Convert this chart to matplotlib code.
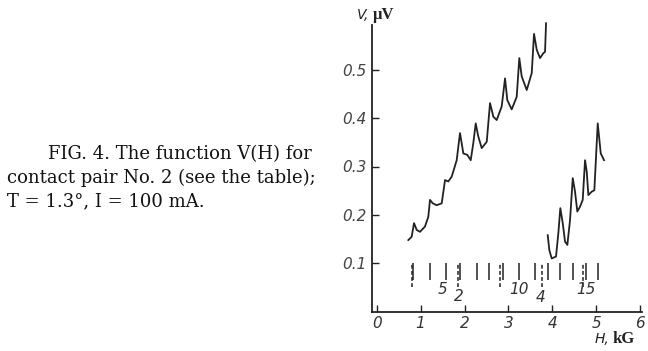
import matplotlib
matplotlib.use("Agg")
import matplotlib.pyplot as plt

# Upper curve V(H)
H1 = [0.720, 0.797, 0.850, 0.911, 0.986, 1.100, 1.175, 1.214, 1.276, 1.367, 1.481, 1.556,
      1.631, 1.708, 1.822, 1.897, 1.936, 1.973, 2.064, 2.141, 2.200, 2.255, 2.314, 2.392,
      2.506, 2.581, 2.656, 2.733, 2.847, 2.923, 2.975, 3.075, 3.189, 3.248, 3.303, 3.417,
      3.531, 3.583, 3.645, 3.720, 3.795, 3.834, 3.857]
V1 = [0.148, 0.155, 0.183, 0.169, 0.165, 0.176, 0.196, 0.231, 0.224, 0.220, 0.224, 0.272,
      0.269, 0.279, 0.313, 0.369, 0.348, 0.327, 0.324, 0.313, 0.348, 0.389, 0.362, 0.338,
      0.351, 0.431, 0.403, 0.396, 0.424, 0.482, 0.437, 0.418, 0.444, 0.524, 0.486, 0.458,
      0.493, 0.574, 0.541, 0.524, 0.534, 0.537, 0.596]

# Lower curve V(H)
H2 = [3.895, 3.932, 3.986, 4.084, 4.137, 4.182, 4.237, 4.289, 4.342, 4.403, 4.465, 4.517,
      4.569, 4.631, 4.692, 4.745, 4.784, 4.820, 4.897, 4.957, 5.011, 5.034, 5.064, 5.103, 5.178]
V2 = [0.158, 0.127, 0.110, 0.114, 0.162, 0.214, 0.183, 0.145, 0.138, 0.189, 0.276, 0.248,
      0.207, 0.217, 0.231, 0.313, 0.289, 0.241, 0.248, 0.251, 0.348, 0.389, 0.362, 0.327, 0.313]

# Marker lines (solid and dashed series)
solid_H = [0.827, 1.214, 1.572, 1.886, 2.278, 2.565, 2.866, 3.241, 3.606, 3.895,
           4.175, 4.465, 4.761, 5.034]
dashed_H = [0.793, 1.863, 2.809, 3.772, 4.699]
marker_labels = ["5", "2", "10", "4", "15"]
marker_label_H = [1.503, 1.859, 3.248, 3.736, 4.768]
marker_label_V = [0.045, 0.031, 0.045, 0.029, 0.045]

xticks = [0, 1, 2, 3, 4, 5, 6]
yticks = [0.1, 0.2, 0.3, 0.4, 0.5]
ytick_labels = ["0.1", "0.2", "0.3", "0.4", "0.5"]

W, Hpx = 648, 351
fig = plt.figure(figsize=(W / 100, Hpx / 100), dpi=100)
fig.patch.set_facecolor("white")

ax = fig.add_axes([372 / W, 1 - 311.7 / Hpx, 269.9 / W, 290.4 / Hpx])
ax.set_xlim(-0.107, 6.04)
ax.set_ylim(0, 0.6)

lc = "#222222"
ax.plot(H1, V1, color=lc, lw=1.3, solid_joinstyle="round")
ax.plot(H2, V2, color=lc, lw=1.3, solid_joinstyle="round")

ax.vlines(solid_H, 0.065, 0.100, colors=lc, lw=1.1)
ax.vlines(dashed_H, 0.052, 0.100, colors=lc, lw=1.1, linestyles=(0, (2.5, 1.5)))

for lab, h, v in zip(marker_labels, marker_label_H, marker_label_V):
    ax.text(h, v, lab, ha="center", va="center", fontsize=11, style="italic",
            family="DejaVu Sans", color="#333333")

for s in ["top", "right"]:
    ax.spines[s].set_visible(False)
ax.spines["left"].set_bounds(0, 0.592)
ax.spines["left"].set_linewidth(1.3)
ax.spines["bottom"].set_linewidth(1.3)
ax.spines["left"].set_color(lc)
ax.spines["bottom"].set_color(lc)

ax.set_xticks(xticks)
ax.set_xticklabels([str(t) for t in xticks], fontsize=11, style="italic",
                   family="DejaVu Sans", color="#333333")
ax.set_yticks(yticks)
ax.set_yticklabels(ytick_labels, fontsize=11, style="italic", family="DejaVu Sans",
                   color="#444444")
ax.tick_params(axis="both", direction="in", length=5, width=1, colors=lc)
ax.tick_params(axis="y", pad=4, labelcolor="#444444")
ax.tick_params(axis="x", pad=3, labelcolor="#333333")

# Axis titles
fig.text(357 / W, 1 - 15 / Hpx, "V,", fontsize=10, style="italic", family="DejaVu Sans",
         ha="left", va="center", color=lc)
fig.text(373 / W, 1 - 15 / Hpx, "μV", fontsize=12, weight="bold", family="Liberation Serif",
         ha="left", va="center", color=lc)
fig.text(595 / W, 1 - 339 / Hpx, "H,", fontsize=10, style="italic", family="DejaVu Sans",
         ha="left", va="center", color=lc)
fig.text(613 / W, 1 - 339 / Hpx, "kG", fontsize=12, weight="bold", family="Liberation Serif",
         ha="left", va="center", color=lc)

# Caption
cap_kw = dict(fontsize=13, family="DejaVu Serif", ha="left", va="center", color="#111111")
fig.text(48 / W, 1 - 154 / Hpx, "FIG. 4. The function V(H) for", **cap_kw)
fig.text(7 / W, 1 - 178 / Hpx, "contact pair No. 2 (see the table);", **cap_kw)
fig.text(7 / W, 1 - 201 / Hpx, "T = 1.3°, I = 100 mA.", **cap_kw)

fig.savefig("out.png", dpi=100)
